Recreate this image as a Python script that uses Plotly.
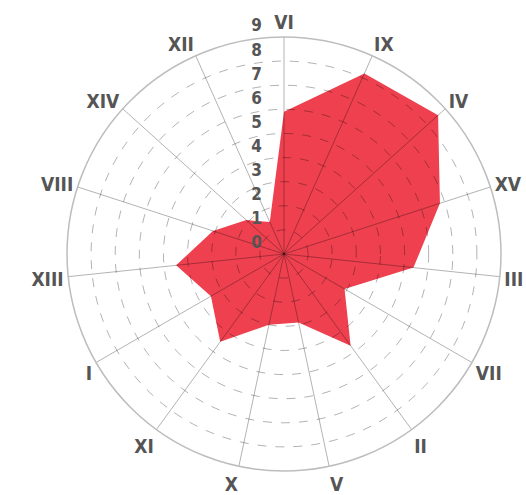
import plotly.graph_objects as go

categories = ["VI", "IX", "IV", "XV", "III", "VII", "II", "V", "X", "XI", "I", "XIII", "VIII", "XIV", "XII"]
values = [5.9, 8.2, 8.6, 6.8, 5.4, 2.9, 4.7, 2.9, 3.0, 4.5, 3.5, 4.5, 3.1, 2.1, 1.45]
radial_ticks = [0, 1, 2, 3, 4, 5, 6, 7, 8, 9]

FONT = "DejaVu Sans Condensed, Liberation Sans Narrow, Roboto, sans-serif"
TXT = "#555555"
PAD = "\u00a0" * 3 + "\u2009"

fig = go.Figure()
# filled data polygon (bottom subplot)
fig.add_trace(go.Scatterpolar(
    r=values + values[:1],
    theta=categories + categories[:1],
    mode="lines",
    fill="toself",
    fillcolor="rgba(238,64,78,1)",
    line=dict(color="rgba(238,64,78,0)", width=0),
    hoverinfo="skip",
    subplot="polar",
))
# invisible trace so that the grid subplot on top has the same categories
fig.add_trace(go.Scatterpolar(
    r=values,
    theta=categories,
    mode="lines",
    line=dict(color="rgba(0,0,0,0)", width=0),
    hoverinfo="skip",
    subplot="polar2",
))

common_ang = dict(
    direction="clockwise",
    rotation=90,
    type="category",
    categoryorder="array",
    categoryarray=categories,
    ticks="",
)
common_rad = dict(range=[0, 9], angle=90, ticks="")

dom = dict(x=[0, 1], y=[0, 1])

fig.update_layout(
    width=526, height=495,
    margin=dict(l=67, r=25, t=37, b=24),
    paper_bgcolor="white",
    plot_bgcolor="white",
    showlegend=False,
    font=dict(family=FONT, color=TXT),
    polar=dict(
        bgcolor="white",
        domain=dom,
        angularaxis=dict(**common_ang, showline=False, showgrid=False, showticklabels=False),
        radialaxis=dict(**common_rad, showline=False, showgrid=False, showticklabels=False),
    ),
    polar2=dict(
        bgcolor="rgba(0,0,0,0)",
        domain=dom,
        angularaxis=dict(
            **common_ang,
            showline=True,
            linecolor="#bdbdbd",
            linewidth=1.5,
            gridcolor="rgba(0,0,0,0.3)",
            gridwidth=1.2,
            tickfont=dict(size=19, family=FONT, color=TXT, weight="bold"),
        ),
        radialaxis=dict(
            **common_rad,
            tickangle=90,
            side="counterclockwise",
            tickvals=radial_ticks,
            ticktext=[str(t) + PAD + "<br>\u00a0" for t in radial_ticks],
            showline=False,
            gridcolor="rgba(0,0,0,0.3)",
            griddash="dash",
            gridwidth=1,
            tickfont=dict(size=17, family=FONT, color=TXT, weight="bold"),
        ),
    ),
)

fig.write_html(
    "out.html",
    config={"displayModeBar": False},
    post_script="document.body.style.margin='0';",
)
